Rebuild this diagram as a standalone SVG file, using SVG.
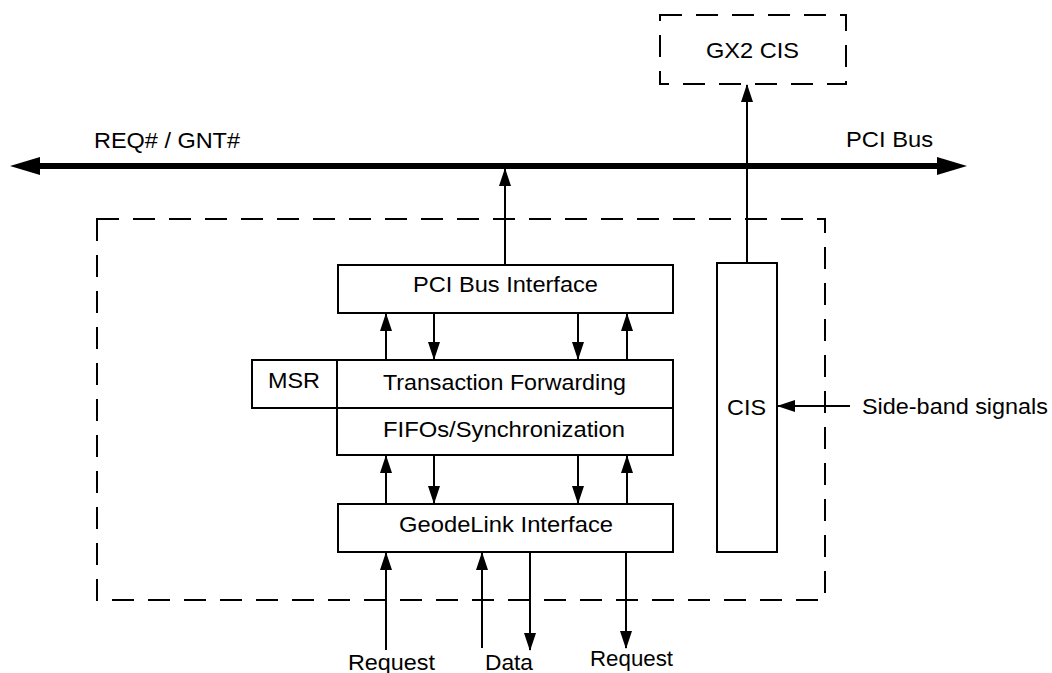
<svg xmlns="http://www.w3.org/2000/svg" width="1052" height="673" viewBox="0 0 1052 673">
<style>
  .box { fill: #fff; stroke: #000; stroke-width: 2; }
  .dash { fill: none; stroke: #000; stroke-width: 2; stroke-dasharray: 22 14; }
  .t { font-family: "Liberation Sans", Arial, sans-serif; font-size: 22.5px; fill: #000; }
  .w { stroke: #000; stroke-width: 2; fill: none; }
  .arr { marker-end: url(#ah); }
  .bus { stroke: #000; stroke-width: 6; fill: none; marker-start: url(#bh); marker-end: url(#bh); }
</style>
<defs>
  <marker id="ah" markerUnits="userSpaceOnUse" viewBox="0 0 18 12" refX="17" refY="6" markerWidth="18" markerHeight="12" orient="auto">
    <path d="M0,0 L18,6 L0,12 z" fill="#000"/>
  </marker>
  <marker id="bh" markerUnits="userSpaceOnUse" viewBox="0 0 30 18" refX="1" refY="9" markerWidth="30" markerHeight="18" orient="auto-start-reverse">
    <path d="M0,0 L30,9 L0,18 z" fill="#000"/>
  </marker>
</defs>

<g id="outer-boundary">
  <rect class="dash" x="97" y="219" width="728" height="381"/>
</g>

<g id="connectors">
  <line class="bus" x1="39" y1="166" x2="938" y2="166"/>
  <line class="w arr" x1="505" y1="265" x2="505" y2="169"/>
  <line class="w arr" x1="747" y1="263" x2="747" y2="85"/>
  <line class="w arr" x1="386" y1="360" x2="386" y2="314"/>
  <line class="w arr" x1="434" y1="313" x2="434" y2="359"/>
  <line class="w arr" x1="578" y1="313" x2="578" y2="359"/>
  <line class="w arr" x1="627" y1="360" x2="627" y2="314"/>
  <line class="w arr" x1="386" y1="504" x2="386" y2="456"/>
  <line class="w arr" x1="434" y1="455" x2="434" y2="503"/>
  <line class="w arr" x1="578" y1="455" x2="578" y2="503"/>
  <line class="w arr" x1="627" y1="504" x2="627" y2="456"/>
  <line class="w arr" x1="386" y1="650" x2="386" y2="553"/>
  <line class="w arr" x1="482" y1="648" x2="482" y2="553"/>
  <line class="w arr" x1="530" y1="552" x2="530" y2="650"/>
  <line class="w arr" x1="626" y1="552" x2="626" y2="648"/>
  <line class="w arr" x1="850" y1="406" x2="778" y2="406"/>
</g>

<g id="gx2-cis">
  <rect class="dash" x="660" y="15" width="186" height="69" fill="#fff"/>
  <text class="t" x="706" y="58" textLength="93" lengthAdjust="spacingAndGlyphs">GX2 CIS</text>
</g>

<g id="pci-bus-labels">
  <text class="t" x="94" y="148" textLength="146" lengthAdjust="spacingAndGlyphs">REQ# / GNT#</text>
  <text class="t" x="846" y="147" textLength="87" lengthAdjust="spacingAndGlyphs">PCI Bus</text>
</g>

<g id="pci-bus-interface">
  <rect class="box" x="338" y="265" width="335" height="48"/>
  <text class="t" x="413" y="292" textLength="185" lengthAdjust="spacingAndGlyphs">PCI Bus Interface</text>
</g>

<g id="msr">
  <rect class="box" x="252" y="360" width="85" height="48"/>
  <text class="t" x="268" y="388" textLength="52" lengthAdjust="spacingAndGlyphs">MSR</text>
</g>

<g id="transaction-forwarding">
  <rect class="box" x="337" y="360" width="336" height="48"/>
  <text class="t" x="383" y="390" textLength="243" lengthAdjust="spacingAndGlyphs">Transaction Forwarding</text>
</g>

<g id="fifos">
  <rect class="box" x="337" y="408" width="336" height="47"/>
  <text class="t" x="383" y="437" textLength="242" lengthAdjust="spacingAndGlyphs">FIFOs/Synchronization</text>
</g>

<g id="geodelink-interface">
  <rect class="box" x="338" y="504" width="335" height="48"/>
  <text class="t" x="399" y="532" textLength="214" lengthAdjust="spacingAndGlyphs">GeodeLink Interface</text>
</g>

<g id="cis">
  <rect class="box" x="717" y="263" width="60" height="289"/>
  <text class="t" x="727" y="415" textLength="39" lengthAdjust="spacingAndGlyphs">CIS</text>
</g>

<g id="side-band">
  <text class="t" x="862" y="414" textLength="186" lengthAdjust="spacingAndGlyphs">Side-band signals</text>
</g>

<g id="bottom-labels">
  <text class="t" x="348" y="670" textLength="87" lengthAdjust="spacingAndGlyphs">Request</text>
  <text class="t" x="485" y="670" textLength="48" lengthAdjust="spacingAndGlyphs">Data</text>
  <text class="t" x="590" y="666" textLength="83" lengthAdjust="spacingAndGlyphs">Request</text>
</g>
</svg>
